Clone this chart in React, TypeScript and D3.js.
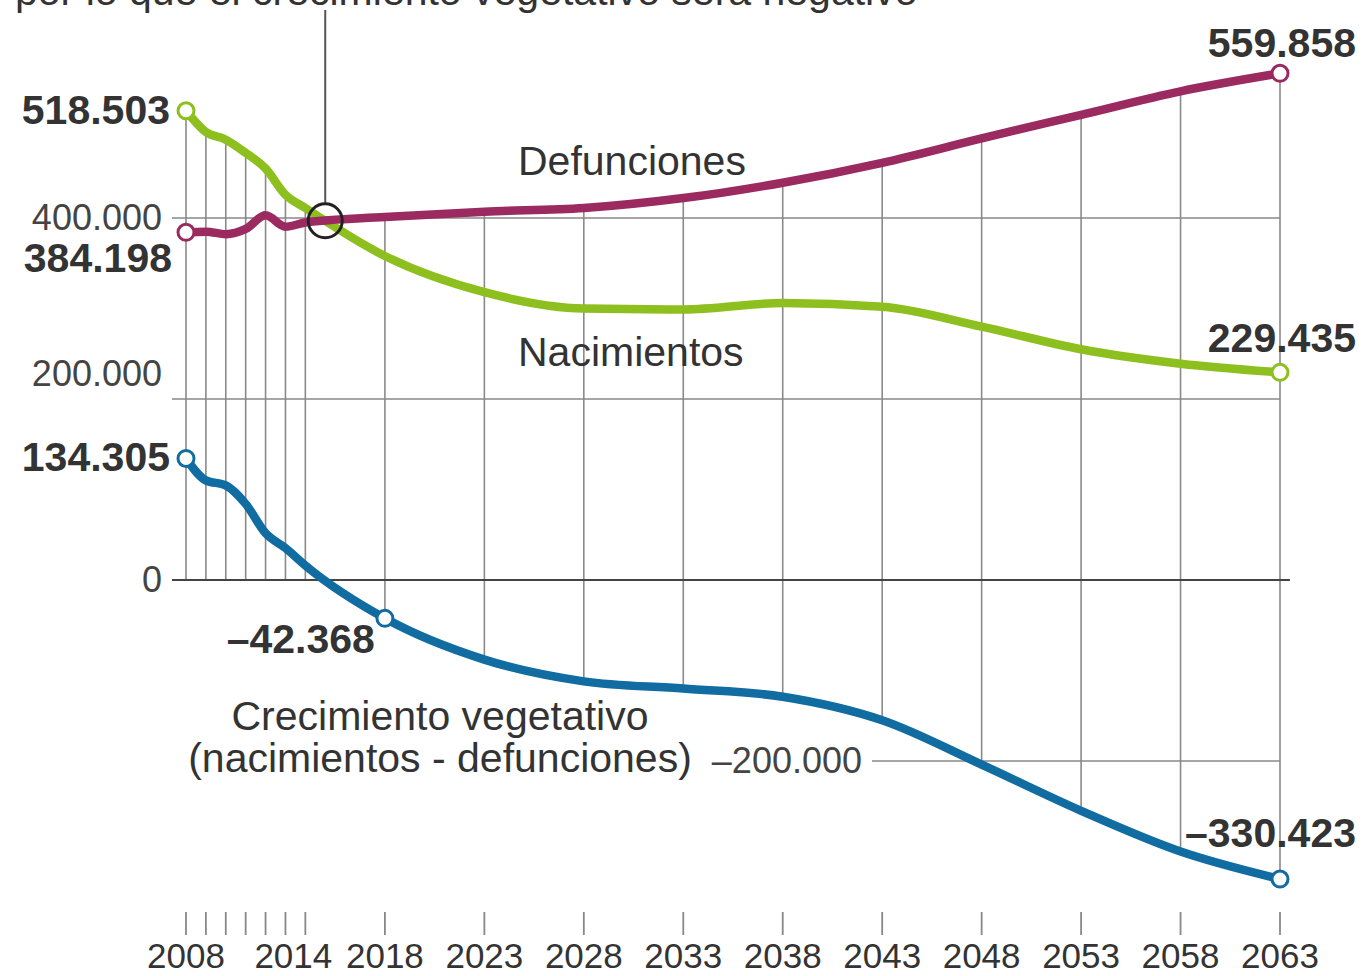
import React from "react";
import * as d3 from "d3";

const years = [2008, 2009, 2010, 2011, 2012, 2013, 2014, 2018, 2023, 2028, 2033, 2038, 2043, 2048, 2053, 2058, 2063];
const nacimientos = [518503, 494997, 486575, 471999, 454648, 425715, 411000, 358000, 318000, 300000, 299000, 306000, 302000, 280000, 255000, 239000, 229435];
const defunciones = [384198, 384933, 382047, 387911, 402950, 390419, 395000, 401000, 407000, 411000, 422000, 439000, 461000, 488000, 514000, 540000, 559858];
const crecimiento = [134305, 110064, 104528, 84088, 51698, 35296, 16000, -42368, -88000, -112000, -120000, -129000, -155000, -204000, -255000, -300000, -330423];
const yTicks = [400000, 200000, 0, -200000];
const labeledYears = [2008, 2014, 2018, 2023, 2028, 2033, 2038, 2043, 2048, 2053, 2058, 2063];
const annotationYear = 2015;
const titleText = "por lo que el crecimiento vegetativo será negativo";

const W = 1364;
const H = 976;
const FONT = "'Liberation Sans', Arial, Helvetica, sans-serif";
const GREEN = "#8dbf1e";
const PURPLE = "#9a2a5f";
const BLUE = "#106ca1";
const TEXT = "#333";

const fmt = (v: number) => {
  const s = d3.format(",")(Math.abs(v)).replace(/,/g, ".");
  return (v < 0 ? "\u2013" : "") + s;
};

export default function App() {
  const x = d3.scaleLinear().domain([2008, 2063]).range([186, 1280]);
  const y = d3.scaleLinear().domain([0, 400000]).range([580, 218]);

  const line = (vals: number[]) =>
    d3
      .line<number>()
      .x((_, i) => x(years[i]))
      .y((v) => y(v))
      .curve(d3.curveMonotoneX)(vals) as string;

  const last = years.length - 1;
  const i2018 = years.indexOf(2018);

  return (
    <svg width={W} height={H} style={{ position: "absolute", left: 0, top: 0, background: "#fff" }} fontFamily={FONT}>
      <rect width={W} height={H} fill="#fff" />
      {/* cut-off title */}
      <text x={15} y={5} fontSize={41} fill={TEXT}>{titleText}</text>

      {/* vertical grid lines */}
      {years.map((yr, i) => {
        const top = Math.max(nacimientos[i], defunciones[i]);
        const bot = Math.min(0, crecimiento[i]);
        return (
          <line key={yr} x1={x(yr)} x2={x(yr)} y1={y(top)} y2={y(bot)} stroke="#8a8a8a" strokeWidth={1.6} />
        );
      })}

      {/* horizontal grid lines */}
      <line x1={172} x2={x(2063)} y1={y(400000)} y2={y(400000)} stroke="#888" strokeWidth={1.6} />
      <line x1={172} x2={x(2063)} y1={y(200000)} y2={y(200000)} stroke="#888" strokeWidth={1.6} />
      <line x1={872} x2={x(2063)} y1={y(-200000)} y2={y(-200000)} stroke="#888" strokeWidth={1.6} />
      <line x1={172} x2={1290} y1={y(0)} y2={y(0)} stroke="#444" strokeWidth={2.2} />

      {/* y tick labels */}
      <g fontSize={36} fill="#444">
        <text x={162} y={y(yTicks[0]) + 12} textAnchor="end">{fmt(yTicks[0])}</text>
        <text x={162} y={y(yTicks[1]) - 13} textAnchor="end">{fmt(yTicks[1])}</text>
        <text x={162} y={y(yTicks[2]) + 12} textAnchor="end">{fmt(yTicks[2])}</text>
        <text x={862} y={y(yTicks[3]) + 12} textAnchor="end">{fmt(yTicks[3])}</text>
      </g>

      {/* series */}
      <path d={line(nacimientos)} fill="none" stroke={GREEN} strokeWidth={8.5} strokeLinejoin="round" strokeLinecap="round" />
      <path d={line(defunciones)} fill="none" stroke={PURPLE} strokeWidth={8.5} strokeLinejoin="round" strokeLinecap="round" />
      <path d={line(crecimiento)} fill="none" stroke={BLUE} strokeWidth={8.5} strokeLinejoin="round" strokeLinecap="round" />

      {/* end markers */}
      {[
        [years[0], nacimientos[0], GREEN],
        [years[last], nacimientos[last], GREEN],
        [years[0], defunciones[0], PURPLE],
        [years[last], defunciones[last], PURPLE],
        [years[0], crecimiento[0], BLUE],
        [years[i2018], crecimiento[i2018], BLUE],
        [years[last], crecimiento[last], BLUE],
      ].map(([yr, v, c], k) => (
        <circle key={k} cx={x(yr as number)} cy={y(v as number)} r={8} fill="#fff" stroke={c as string} strokeWidth={3} />
      ))}

      {/* annotation */}
      <line x1={x(annotationYear)} x2={x(annotationYear)} y1={10} y2={y(397000) - 17} stroke="#555" strokeWidth={2} />
      <circle cx={x(annotationYear)} cy={y(397000)} r={17} fill="none" stroke="#222" strokeWidth={3} />

      {/* value labels */}
      <g fontWeight="bold" fontSize={41} fill={TEXT}>
        <text x={170} y={y(nacimientos[0]) + 13} textAnchor="end">{fmt(nacimientos[0])}</text>
        <text x={172} y={y(defunciones[0]) + 40} textAnchor="end">{fmt(defunciones[0])}</text>
        <text x={170} y={y(crecimiento[0]) + 13} textAnchor="end">{fmt(crecimiento[0])}</text>
        <text x={x(2018) - 10} y={y(crecimiento[i2018]) + 35} textAnchor="end">{fmt(crecimiento[i2018])}</text>
        <text x={1356} y={y(defunciones[last]) - 16} textAnchor="end">{fmt(defunciones[last])}</text>
        <text x={1356} y={y(nacimientos[last]) - 20} textAnchor="end">{fmt(nacimientos[last])}</text>
        <text x={1356} y={y(crecimiento[last]) - 32} textAnchor="end">{fmt(crecimiento[last])}</text>
      </g>

      {/* series names */}
      <g fontSize={41} fill={TEXT}>
        <text x={518} y={175}>Defunciones</text>
        <text x={518} y={366}>Nacimientos</text>
        <text x={440} y={730} textAnchor="middle">Crecimiento vegetativo</text>
        <text x={440} y={772} textAnchor="middle">(nacimientos - defunciones)</text>
      </g>

      {/* x axis ticks */}
      {years.map((yr) => (
        <line key={"t" + yr} x1={x(yr)} x2={x(yr)} y1={912} y2={935} stroke="#888" strokeWidth={1.8} />
      ))}
      {labeledYears.map((yr) => (
        <text key={"l" + yr} x={x(yr) + (yr === 2014 ? -12 : 0)} y={968} textAnchor="middle" fontSize={35} fill={TEXT}>
          {yr}
        </text>
      ))}
    </svg>
  );
}
